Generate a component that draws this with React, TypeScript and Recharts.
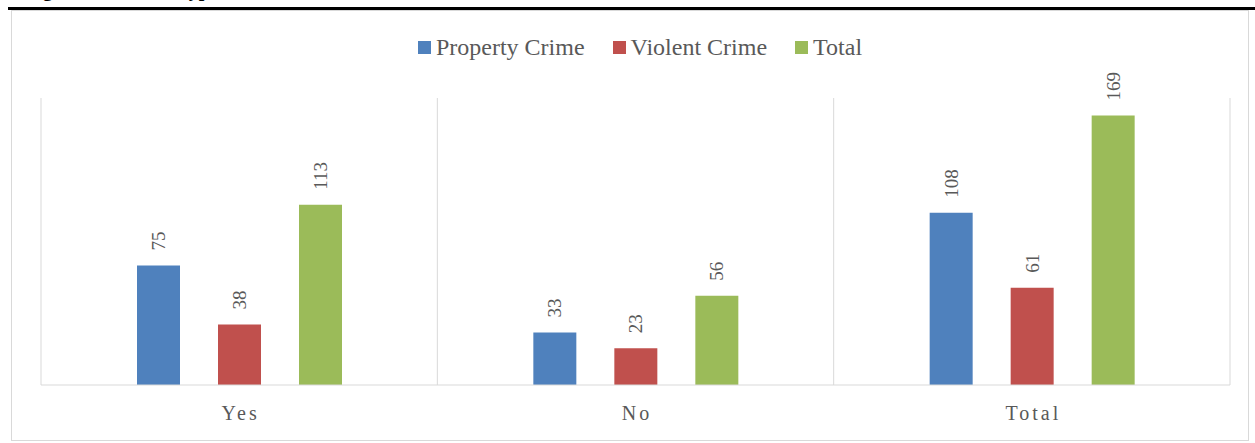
import { BarChart, Bar, XAxis, YAxis, CartesianGrid, LabelList } from 'recharts';

const categories = ['Yes', 'No', 'Total'];
const propertyCrime = [75, 33, 108];
const violentCrime = [38, 23, 61];
const totalCrime = [113, 56, 169];

const seriesNames = ['Property Crime', 'Violent Crime', 'Total'];
const seriesColors = ['#4F81BD', '#C0504D', '#9BBB59'];

const data = categories.map((name, i) => ({
  name,
  property: propertyCrime[i],
  violent: violentCrime[i],
  total: totalCrime[i],
}));

const FONT = '"Liberation Serif", "Times New Roman", serif';
const TEXT = '#595959';

// value labels sit above the bar, rotated upward like the Excel original
const RotatedLabel = (props: any) => {
  const { x, y, width, value } = props;
  const cx = x + width / 2;
  const ty = y - 15;
  return (
    <text
      x={cx}
      y={ty}
      transform={`rotate(-90, ${cx}, ${ty})`}
      textAnchor="start"
      dominantBaseline="central"
      fontSize={19}
      fontFamily={FONT}
      fill={TEXT}
    >
      {value}
    </text>
  );
};

const CategoryTick = (props: any) => {
  const { x, y, payload } = props;
  return (
    <text
      x={x + 1.5}
      y={y + 35}
      textAnchor="middle"
      fontSize={20}
      letterSpacing={3}
      fontFamily={FONT}
      fill={TEXT}
    >
      {payload.value}
    </text>
  );
};

export default function App() {
  return (
    <div style={{ position: 'absolute', left: 0, top: 0, width: 1255, height: 443, background: '#fff', overflow: 'hidden' }}>
      {/* clipped caption above the rule */}
      <div style={{ position: 'absolute', left: 0, top: 0, width: 1255, height: 7, overflow: 'hidden' }}>
        <div style={{ position: 'absolute', left: 25, top: -21, fontFamily: FONT, fontWeight: 'bold', fontSize: 20, lineHeight: 1, whiteSpace: 'nowrap', color: '#000' }}>
          Figure 10: Crime Type
        </div>
      </div>
      <div style={{ position: 'absolute', left: 8, top: 7, width: 1247, height: 3, background: '#000' }} />
      <div style={{ position: 'absolute', left: 11, top: 10, width: 1236, height: 429, border: '1px solid #d9d9d9' }} />

      {/* legend */}
      <div style={{ position: 'absolute', left: 0, top: 32, width: 1280, display: 'flex', justifyContent: 'center', alignItems: 'center', fontFamily: FONT, fontSize: 24, lineHeight: '30px', color: TEXT }}>
        {seriesNames.map((n, i) => (
          <div key={n} style={{ display: 'flex', alignItems: 'center', marginRight: i < seriesNames.length - 1 ? 28 : 0 }}>
            <div style={{ width: 13, height: 13, background: seriesColors[i], marginRight: 5 }} />
            <span>{n}</span>
          </div>
        ))}
      </div>

      <div style={{ position: 'absolute', left: 0, top: 0 }}>
        <BarChart
          width={1255}
          height={443}
          data={data}
          margin={{ top: 98, right: 25, bottom: 28, left: 41 }}
          barSize={43}
          barGap={38}
        >
          <CartesianGrid
            horizontal={false}
            stroke="#d9d9d9"
            verticalCoordinatesGenerator={({ offset }: any) =>
              categories.concat(['']).map((_, i) => offset.left + (i * offset.width) / categories.length)
            }
          />
          <XAxis
            dataKey="name"
            height={30}
            axisLine={{ stroke: '#d9d9d9' }}
            tickLine={false}
            tickSize={0}
            tickMargin={0}
            tick={<CategoryTick />}
            interval={0}
          />
          <YAxis hide domain={[0, 180]} />
          <Bar dataKey="property" name={seriesNames[0]} fill={seriesColors[0]} isAnimationActive={false}>
            <LabelList dataKey="property" content={<RotatedLabel />} />
          </Bar>
          <Bar dataKey="violent" name={seriesNames[1]} fill={seriesColors[1]} isAnimationActive={false}>
            <LabelList dataKey="violent" content={<RotatedLabel />} />
          </Bar>
          <Bar dataKey="total" name={seriesNames[2]} fill={seriesColors[2]} isAnimationActive={false}>
            <LabelList dataKey="total" content={<RotatedLabel />} />
          </Bar>
        </BarChart>
      </div>
    </div>
  );
}
